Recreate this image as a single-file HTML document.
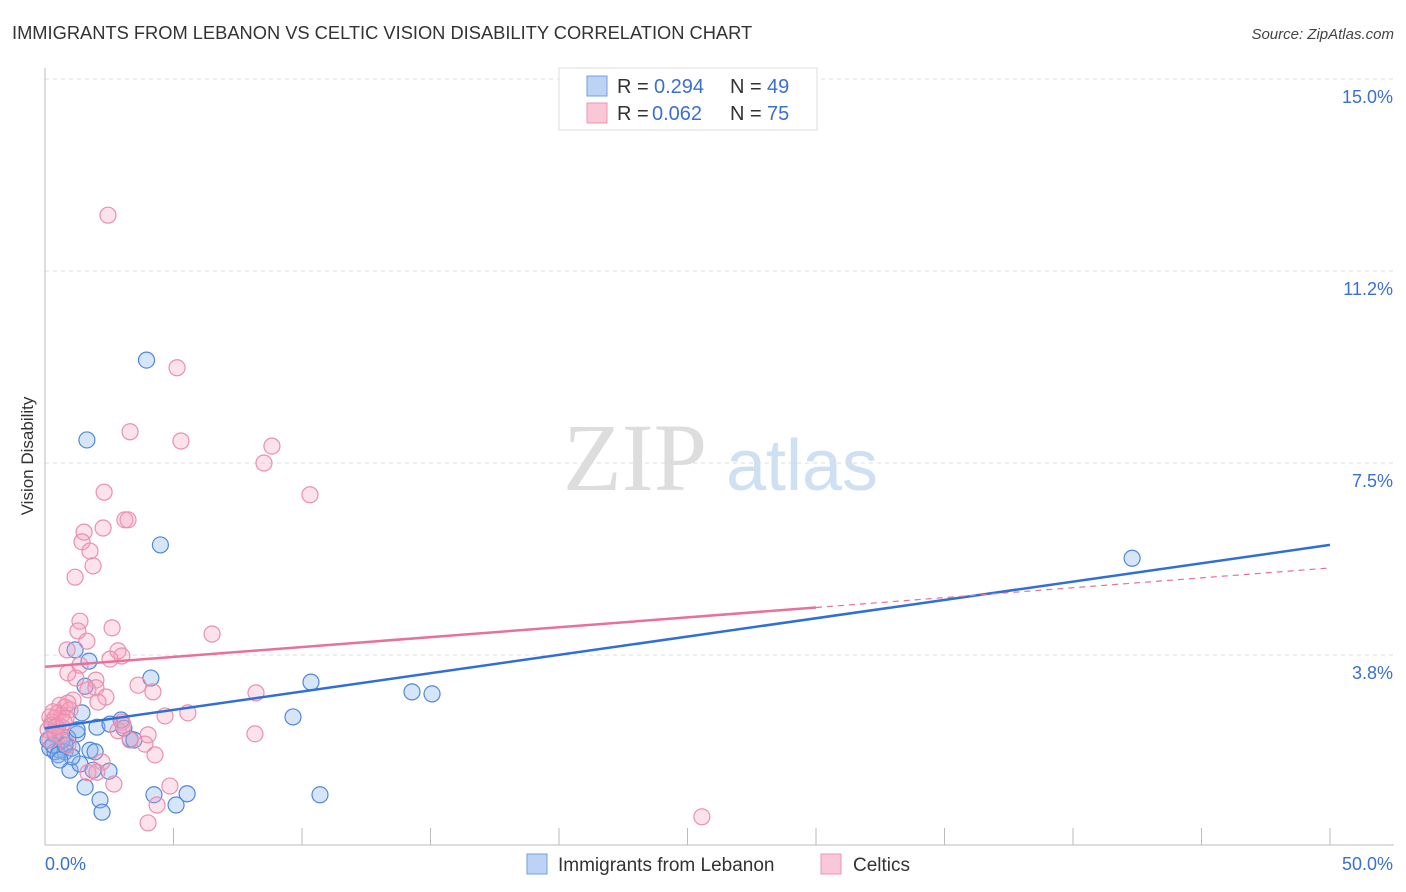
<!DOCTYPE html>
<html><head><meta charset="utf-8"><style>
body{margin:0;background:#fff;font-family:"Liberation Sans",sans-serif}
</style></head><body>
<svg id="c" width="1406" height="892" xmlns="http://www.w3.org/2000/svg" style="display:block">
<text x="12" y="39" font-size="18.3" fill="#333" font-family="Liberation Sans">IMMIGRANTS FROM LEBANON VS CELTIC VISION DISABILITY CORRELATION CHART</text>
<text x="1394" y="39" font-size="15" fill="#444" font-style="italic" text-anchor="end">Source: ZipAtlas.com</text>
<text transform="translate(33,456) rotate(-90)" font-size="17" fill="#333" text-anchor="middle">Vision Disability</text>
<g>
<text x="635" y="490" font-size="96" fill="#ddd" font-family="Liberation Serif" text-anchor="middle">ZIP</text>
<text x="802" y="490" font-size="72" fill="#cfe0f3" text-anchor="middle">atlas</text>
</g>
<g id="grid"></g><g id="pts"></g><g id="lines"></g>
<g>
<rect x="559" y="68" width="258" height="62" fill="#fff" stroke="#ddd"/>
<rect x="587" y="76" width="20" height="20" fill="#bcd3f5" stroke="#6f9fe0"/>
<rect x="587" y="103" width="20" height="20" fill="#f9c8d6" stroke="#ee94b0"/>
<text y="93" font-size="20" fill="#333"><tspan x="617">R =</tspan><tspan x="654" fill="#3a6fd4">0.294</tspan><tspan x="730">N =</tspan><tspan x="767" fill="#3a6fd4">49</tspan></text>
<text y="120" font-size="20" fill="#333"><tspan x="617">R =</tspan><tspan x="652" fill="#3a6fd4">0.062</tspan><tspan x="730">N =</tspan><tspan x="767" fill="#3a6fd4">75</tspan></text>
</g>
<g>
<rect x="527" y="854" width="20" height="20" fill="#bcd3f5" stroke="#6f9fe0"/>
<text x="558" y="871" font-size="19" fill="#333">Immigrants from Lebanon</text>
<rect x="821" y="854" width="20" height="20" fill="#f9c8d6" stroke="#ee94b0"/>
<text x="853" y="871" font-size="19" fill="#333">Celtics</text>
</g>
</svg>
<script>
const yTicks=[15.0,11.25,7.5,3.75];
const yTickLabels=["15.0%","11.2%","7.5%","3.8%"];
const xTickCount=10;
const xMin=0,xMax=50;
const lebX=[3.95,1.63,4.49,42.3,1.71,1.17,4.12,10.35,14.28,15.06,9.65,1.56,1.44,2.96,2.02,3.07,3.31,3.46,1.25,0.89,0.39,0.19,0.39,0.58,0.78,1.05,1.75,1.95,0.97,1.36,1.87,2.49,1.56,2.14,2.22,4.24,5.1,5.53,10.7,0.27,0.66,0.12,0.31,0.51,0.78,1.05,1.25,2.53,0.58];
const lebY=[9.51,7.95,5.90,5.64,3.63,3.85,3.30,3.22,3.03,2.99,2.54,3.14,2.62,2.48,2.34,2.32,2.11,2.09,2.21,2.13,2.19,1.93,1.86,1.89,1.86,1.93,1.89,1.86,1.50,1.62,1.50,1.48,1.17,0.92,0.68,1.02,0.82,1.04,1.02,2.38,2.09,2.09,1.99,1.80,1.99,1.76,2.29,2.40,1.70];
const celX=[2.45,5.14,3.31,5.29,8.83,8.52,10.31,2.3,3.11,3.23,2.26,1.52,1.44,1.75,1.87,1.17,1.36,1.28,1.63,6.5,2.61,0.86,2.84,2.99,2.53,1.36,0.89,1.98,1.2,1.67,3.62,1.98,4.2,8.21,2.37,1.09,2.06,0.58,0.78,0.97,0.51,0.66,0.19,0.39,5.56,4.67,0.27,0.51,0.66,0.82,2.99,0.12,0.39,0.58,2.84,8.17,4.01,3.89,4.28,0.89,2.22,1.67,2.02,2.68,4.86,4.36,4.01,25.56,0.43,0.74,0.19,0.31,0.89,3.04,3.31];
const celY=[12.34,9.36,8.11,7.93,7.83,7.5,6.88,6.93,6.39,6.39,6.23,6.15,5.96,5.78,5.49,5.27,4.41,4.22,4.02,4.16,4.28,3.85,3.83,3.73,3.67,3.55,3.40,3.26,3.30,3.07,3.16,3.11,3.03,3.01,2.93,2.87,2.83,2.77,2.73,2.68,2.62,2.58,2.54,2.52,2.62,2.56,2.44,2.38,2.34,2.52,2.44,2.29,2.25,2.19,2.27,2.21,2.19,2.01,1.80,1.99,1.66,1.45,1.46,1.23,1.19,0.82,0.47,0.59,2.34,2.44,2.09,2.64,2.81,2.38,2.09];
const lebTrend=[2.32,5.90];
const celTrend=[3.52,5.45];
const celSolidEnd=30;
const X=v=>45+(v-xMin)/(xMax-xMin)*1285, Y=v=>847-v*51.2;
const NS="http://www.w3.org/2000/svg";
function mk(t,a,p){const e=document.createElementNS(NS,t);for(const k in a)e.setAttribute(k,a[k]);p.appendChild(e);return e;}
const g=document.getElementById('grid');
yTicks.forEach((v,i)=>{
 const l=mk('line',{x1:45,x2:1394,y1:Y(v),y2:Y(v),stroke:'#ddd','stroke-dasharray':'4,4'},g);
 
 
 const t=mk('text',{x:1393,y:Y(v)+24,'font-size':18,fill:'#3a6fd4','text-anchor':'end'},g);
 
 
 t.textContent=yTickLabels[i];
});
const ax=mk('line',{x1:45,x2:45,y1:68,y2:845,stroke:'#bbb'},g);


const bx=mk('line',{x1:45,x2:1394,y1:845,y2:845,stroke:'#bbb'},g);


for(let i=0;i<=xTickCount;i++){const v=xMin+i*(xMax-xMin)/xTickCount;
 const tk=mk('line',{x1:X(v),x2:X(v),y1:828,y2:845,stroke:'#bbb'},g);
 
 }
[[xMin,'start',"0.0%"],[xMax,'end',"50.0%"]].forEach(([v,a,s])=>{
 const t=mk('text',{x:a=='start'?X(v):X(v)+63,y:870,'font-size':18,fill:'#3a6fd4','text-anchor':a},g);
 
 
 t.textContent=s;});
const p=document.getElementById('pts');
lebX.forEach((x,i)=>{const c=mk('circle',{cx:X(x),cy:Y(lebY[i]),r:8,fill:'rgba(140,180,235,0.35)',stroke:'#4f88dc','stroke-width':1.2},p);
 
 });
celX.forEach((x,i)=>{const c=mk('circle',{cx:X(x),cy:Y(celY[i]),r:8,fill:'rgba(245,160,190,0.3)',stroke:'#ec8fad','stroke-width':1.2},p);
 
 });
const L=document.getElementById('lines');
const bl=mk('line',{x1:X(0),y1:Y(lebTrend[0]),x2:X(50),y2:Y(lebTrend[1]),stroke:'#2f6fd6','stroke-width':2.5},L);


const cy=x=>celTrend[0]+(celTrend[1]-celTrend[0])*x/50;
const pl=mk('line',{x1:X(0),y1:Y(cy(0)),x2:X(celSolidEnd),y2:Y(cy(celSolidEnd)),stroke:'#e8709a','stroke-width':2.5},L);


const pd=mk('line',{x1:X(celSolidEnd),y1:Y(cy(celSolidEnd)),x2:X(50),y2:Y(cy(50)),stroke:'#e8709a','stroke-width':1.2,'stroke-dasharray':'6,5'},L);


</script>
</body></html>
